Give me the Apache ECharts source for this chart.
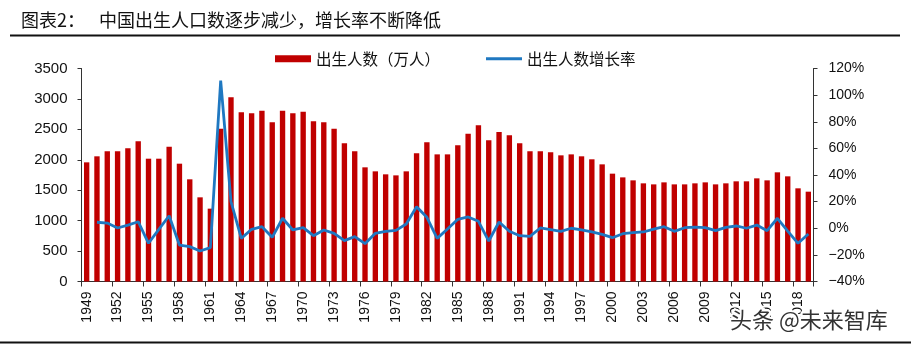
<!DOCTYPE html>
<html>
<head>
<meta charset="utf-8">
<script src="https://cdn.jsdelivr.net/npm/echarts@6/dist/echarts.min.js"></script>
<style>
html,body{margin:0;padding:0;background:#fff;}
#chart{width:911px;height:344px;}
</style>
</head>
<body>
<div id="chart"></div>
<script>
var years = [];
for (var y = 1949; y <= 2019; y++) years.push(String(y));

var births = [
  1958, 2057, 2139, 2139, 2188, 2303, 2018, 2018, 2215, 1936,
  1679, 1383, 1197, 2511, 3026, 2780, 2763, 2807, 2615, 2807,
  2763, 2790, 2632, 2615, 2511, 2270, 2139, 1876, 1810, 1761,
  1744, 1810, 2106, 2287, 2089, 2089, 2237, 2429, 2566, 2319,
  2456, 2402, 2270, 2139, 2139, 2122, 2073, 2089, 2057, 2008,
  1925, 1772, 1711, 1662, 1613, 1596, 1629, 1596, 1596, 1613,
  1629, 1596, 1613, 1646, 1646, 1695, 1662, 1794, 1728, 1531,
  1476
];

var growth = [
  null, 4.5, 3.9, 0.2, 2.4, 4.9, -11.3, -0.8, 9.4, -12.6,
  -13.8, -17.1, -14.6, 110.9, 20.0, -7.6, -0.8, 1.2, -6.8, 7.5,
  -1.3, 0.5, -5.6, -1.3, -3.8, -9.3, -6.3, -11.6, -3.8, -2.3,
  -1.6, 3.2, 16.2, 8.2, -7.6, -0.6, 6.7, 8.5, 5.2, -9.6,
  4.7, -2.3, -5.6, -6.1, 0.2, -1.0, -2.3, 0.0, -1.3, -2.8,
  -4.6, -7.1, -4.1, -3.3, -2.8, -0.6, 1.2, -2.3, 0.4, 0.9,
  0.4, -1.8, 0.7, 1.7, 0.0, 2.4, -1.8, 7.5, -2.1, -11.3,
  -4.3
];

var leftTicks = {min: 0, max: 3500, interval: 500};
var rightTicks = {min: -40, max: 120, interval: 20};

var titleLabel = '图表2：';
var titleText = '中国出生人口数逐步减少，增长率不断降低';
var barName = '出生人数（万人）';
var lineName = '出生人数增长率';
var watermark = '头条 @未来智库';

var cjk = '"Noto Sans CJK SC", sans-serif';
var latin = '"Liberation Sans", Arial, sans-serif';
var axisColor = '#333';
var lineColor = '#1F78C1';

var chart = echarts.init(document.getElementById('chart'), null, {renderer: 'canvas'});
chart.setOption({
  animation: false,
  backgroundColor: '#fff',
  grid: {left: 81.5, right: 97.5, top: 68.5, bottom: 62.5, containLabel: false},
  legend: {
    top: 46,
    left: 270,
    itemWidth: 36,
    itemHeight: 7,
    itemGap: 46,
    textStyle: {fontFamily: cjk, fontSize: 15.5, color: '#111'},
    data: [
      {name: barName, icon: 'rect'},
      {name: lineName, icon: 'path://M0,0H36V3H0Z'}
    ]
  },
  xAxis: {
    type: 'category',
    data: years,
    boundaryGap: true,
    axisLine: {lineStyle: {color: axisColor, width: 1}},
    axisTick: {show: true, interval: 2, length: 5, lineStyle: {color: axisColor}},
    axisLabel: {
      interval: 2, rotate: 90, margin: 10,
      fontFamily: latin, fontSize: 14, color: '#111'
    },
    splitLine: {show: false}
  },
  yAxis: [
    {
      type: 'value',
      min: leftTicks.min, max: leftTicks.max, interval: leftTicks.interval,
      position: 'left',
      axisLine: {show: true, lineStyle: {color: axisColor}},
      axisTick: {show: true, length: 4, lineStyle: {color: axisColor}},
      axisLabel: {
        margin: 14, fontFamily: latin, fontSize: 15, color: '#111',
        formatter: function (v) { return String(v); }
      },
      splitLine: {show: false}
    },
    {
      type: 'value',
      min: rightTicks.min, max: rightTicks.max, interval: rightTicks.interval,
      position: 'right',
      axisLine: {show: true, lineStyle: {color: axisColor}},
      axisTick: {show: true, length: 4, lineStyle: {color: axisColor}},
      axisLabel: {
        margin: 15, fontFamily: latin, fontSize: 14, color: '#111',
        formatter: function (v) { return String(v).replace('-', '\u2212') + '%'; }
      },
      splitLine: {show: false}
    }
  ],
  series: [
    {
      name: barName,
      type: 'bar',
      data: births,
      yAxisIndex: 0,
      barWidth: '52%',
      itemStyle: {color: '#C00000'}
    },
    {
      name: lineName,
      type: 'line',
      data: growth,
      yAxisIndex: 1,
      symbol: 'none',
      connectNulls: false,
      lineStyle: {color: lineColor, width: 2.8},
      itemStyle: {color: lineColor},
      z: 5
    }
  ],
  graphic: [
    {
      type: 'text', left: 21, top: 11,
      style: {text: titleLabel, font: '18px ' + cjk, fill: '#111'}
    },
    {
      type: 'text', left: 99, top: 11,
      style: {text: titleText, font: '18px ' + cjk, fill: '#111'}
    },
    {
      type: 'line', shape: {x1: 10, y1: 35.5, x2: 900, y2: 35.5},
      style: {stroke: '#111', lineWidth: 2}
    },
    {
      type: 'line', shape: {x1: 0, y1: 342.5, x2: 911, y2: 342.5},
      style: {stroke: '#111', lineWidth: 2}
    },
    {
      type: 'text', left: 728, top: 307, z: 100,
      style: {
        text: watermark, font: '22px ' + cjk, fill: '#333',
        stroke: '#fff', lineWidth: 4
      }
    }
  ]
});
</script>
</body>
</html>
